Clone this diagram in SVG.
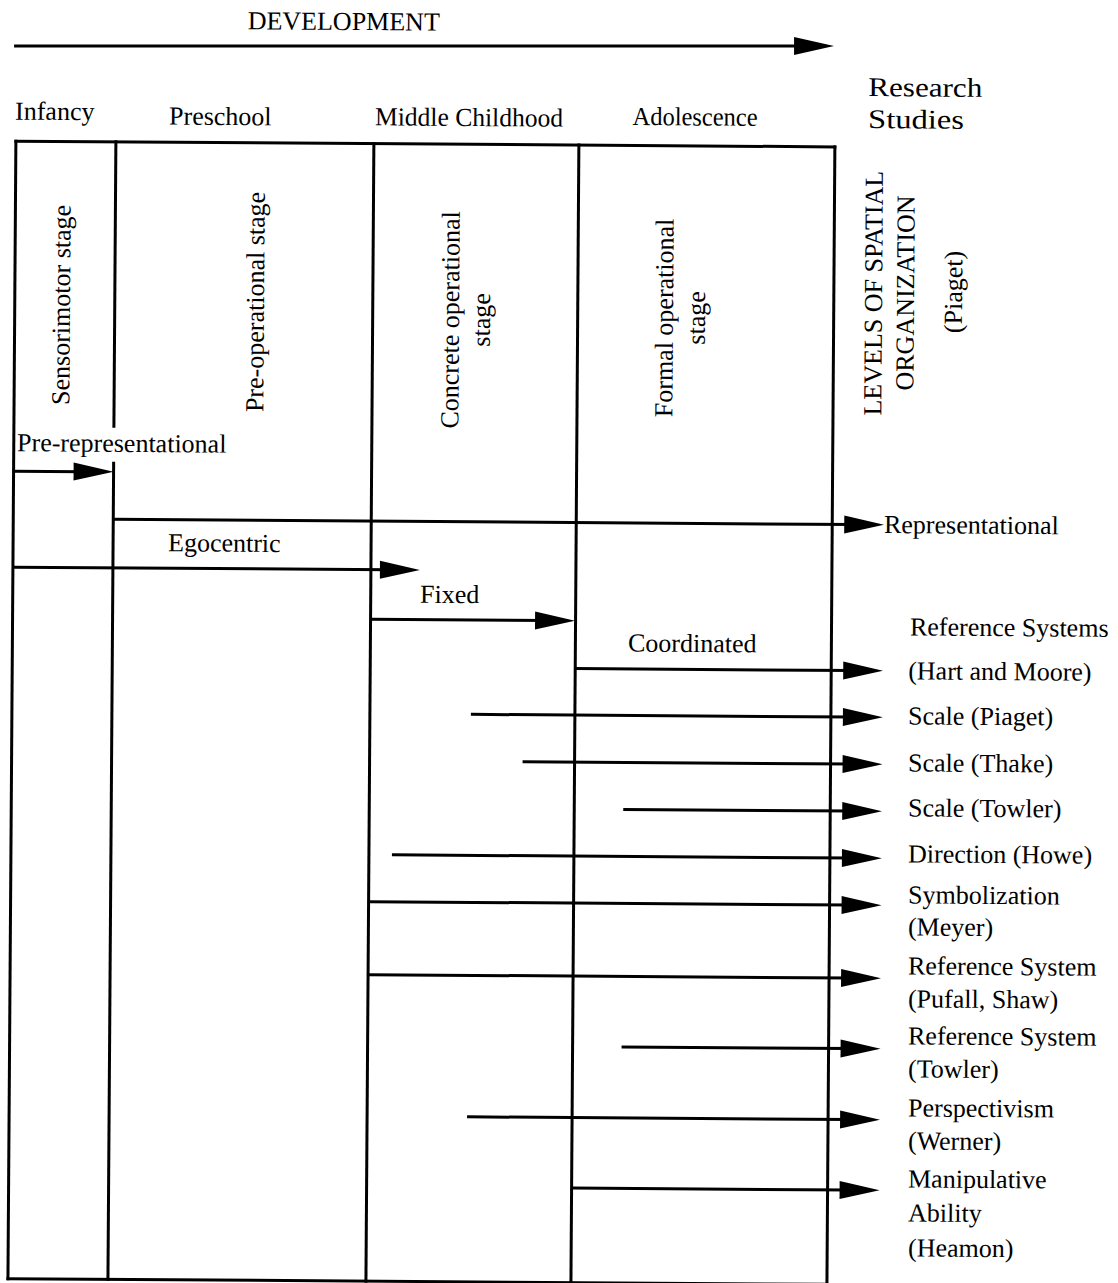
<svg xmlns="http://www.w3.org/2000/svg" width="1118" height="1283" viewBox="0 0 1118 1283">
<style>
.t{font-family:"Liberation Serif","Times New Roman",serif;font-size:26px;fill:#000}
.big{font-size:27px}
.ln{stroke:#000;stroke-width:3;fill:none}
.ar{stroke:#000;stroke-width:3;fill:none;marker-end:url(#arr)}
</style>
<defs>
<marker id="arr" markerUnits="userSpaceOnUse" markerWidth="42" markerHeight="22" viewBox="0 0 42 22" refX="12" refY="11" orient="auto">
<path d="M2,2 L42,11 L2,20 Z" fill="#000"/>
</marker>
</defs>
<rect x="0" y="0" width="1118" height="1283" fill="#fff"/>
<g transform="rotate(0.4 420 700)">
<g id="header">
<text class="t" x="243" y="30.5">DEVELOPMENT</text>
<text class="t big" x="864" y="93" textLength="114" lengthAdjust="spacingAndGlyphs">Research</text>
<text class="t big" x="864" y="125" textLength="96" lengthAdjust="spacingAndGlyphs">Studies</text>
</g>
<g id="frame">
<line class="ln" x1="10.5" y1="144" x2="832.5" y2="144"/>
<line class="ln" x1="10.5" y1="1281.5" x2="832.5" y2="1281.5"/>
<line class="ln" x1="12" y1="142.5" x2="12" y2="1283"/>
<line class="ln" x1="112" y1="142.5" x2="112" y2="430"/>
<line class="ln" x1="112" y1="464" x2="112" y2="1283"/>
<line class="ln" x1="370" y1="142.5" x2="370" y2="1283"/>
<line class="ln" x1="575" y1="142.5" x2="575" y2="1283"/>
<line class="ln" x1="831" y1="142.5" x2="831" y2="1283"/>
</g>
<g id="infancy">
<text class="t" x="11" y="122.5">Infancy</text>
<text class="t" text-anchor="middle" transform="rotate(-90 67.2 307.4)" x="67.2" y="307.4">Sensorimotor stage</text>
</g>
<g id="preschool">
<text class="t" x="165" y="126.4">Preschool</text>
<text class="t" text-anchor="middle" transform="rotate(-90 261.2 303.1)" x="261.2" y="303.1">Pre-operational stage</text>
</g>
<g id="middle-childhood">
<text class="t" x="371" y="125.7" textLength="188" lengthAdjust="spacingAndGlyphs">Middle Childhood</text>
<text class="t" text-anchor="middle" transform="rotate(-90 456.3 319.7)" x="456.3" y="319.7">Concrete operational</text>
<text class="t" text-anchor="middle" transform="rotate(-90 487.3 319.5)" x="487.3" y="319.5">stage</text>
</g>
<g id="adolescence">
<text class="t" x="628.5" y="123.5" textLength="125" lengthAdjust="spacingAndGlyphs">Adolescence</text>
<text class="t" text-anchor="middle" transform="rotate(-90 670.3 316.2)" x="670.3" y="316.2">Formal operational</text>
<text class="t" text-anchor="middle" transform="rotate(-90 702.3 316)" x="702.3" y="316">stage</text>
</g>
<g id="levels">
<text class="t" text-anchor="middle" transform="rotate(-90 879.2 290)" x="879.2" y="290">LEVELS OF SPATIAL</text>
<text class="t" text-anchor="middle" transform="rotate(-90 911.2 289.6)" x="911.2" y="289.6">ORGANIZATION</text>
<text class="t" text-anchor="middle" transform="rotate(-90 959.2 288.2)" x="959.2" y="288.2">(Piaget)</text>
</g>
<g id="level-labels">
<text class="t" x="15.3" y="454">Pre-representational</text>
<text class="t" x="882.8" y="529.8">Representational</text>
<text class="t" x="167" y="553">Egocentric</text>
<text class="t" x="419.3" y="602.8">Fixed</text>
<text class="t" x="627.7" y="650.1">Coordinated</text>
</g>
<g id="studies">
<text class="t" x="909.5" y="632">Reference Systems</text>
<text class="t" x="908" y="676">(Hart and Moore)</text>
<text class="t" x="908.2" y="721">Scale (Piaget)</text>
<text class="t" x="908.5" y="768">Scale (Thake)</text>
<text class="t" x="908.8" y="813">Scale (Towler)</text>
<text class="t" x="909.1" y="859">Direction (Howe)</text>
<text class="t" x="909.4" y="900">Symbolization</text>
<text class="t" x="909.6" y="932">(Meyer)</text>
<text class="t" x="909.9" y="971">Reference System</text>
<text class="t" x="910.1" y="1004">(Pufall, Shaw)</text>
<text class="t" x="910.4" y="1041">Reference System</text>
<text class="t" x="910.6" y="1074">(Towler)</text>
<text class="t" x="910.9" y="1113">Perspectivism</text>
<text class="t" x="911.1" y="1146">(Werner)</text>
<text class="t" x="911.4" y="1184">Manipulative</text>
<text class="t" x="911.6" y="1218">Ability</text>
<text class="t" x="911.9" y="1253">(Heamon)</text>
</g>
<g id="connectors">
<line class="ar" x1="9.5" y1="48.8" x2="799.5" y2="43.4"/>
<line class="ar" x1="12" y1="474" x2="82" y2="474"/>
<line class="ar" x1="112" y1="521.5" x2="853" y2="521.5"/>
<line class="ar" x1="12" y1="570" x2="389" y2="570"/>
<line class="ar" x1="370" y1="619.7" x2="544.5" y2="619.7"/>
<line class="ar" x1="575" y1="667.5" x2="853" y2="667.5"/>
<line class="ar" x1="471" y1="714" x2="853" y2="714"/>
<line class="ar" x1="523" y1="761" x2="853" y2="761"/>
<line class="ar" x1="624" y1="808" x2="853" y2="808"/>
<line class="ar" x1="393" y1="855" x2="853" y2="855"/>
<line class="ar" x1="370" y1="902" x2="853" y2="902"/>
<line class="ar" x1="370" y1="975" x2="853" y2="975"/>
<line class="ar" x1="624" y1="1045.5" x2="853" y2="1045.5"/>
<line class="ar" x1="470" y1="1116.5" x2="853" y2="1116.5"/>
<line class="ar" x1="575" y1="1187" x2="853" y2="1187"/>
</g>
</g>
</svg>
